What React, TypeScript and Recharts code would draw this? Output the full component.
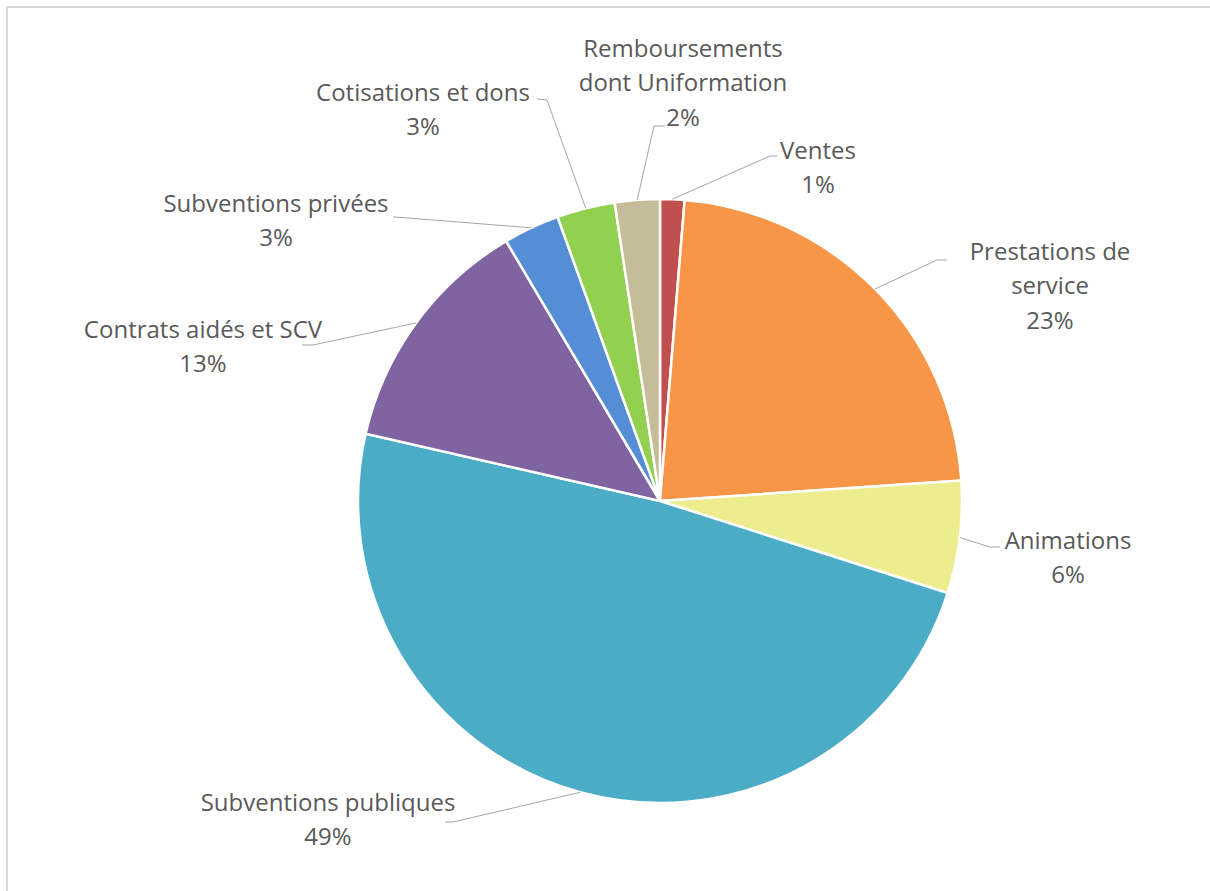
import React from "react";
import { PieChart, Pie, Cell } from "recharts";

const categories = [
  "Ventes",
  "Prestations de\nservice",
  "Animations",
  "Subventions publiques",
  "Contrats aidés et SCV",
  "Subventions privées",
  "Cotisations et dons",
  "Remboursements\ndont Uniformation",
];
const values = [1.3, 22.6, 6.0, 48.6, 12.9, 3.0, 3.1, 2.4];
const colors = ["#c0504d", "#f79646", "#eded8f", "#4bacc6", "#8064a2", "#558ed5", "#92d050", "#c4bd97"];

// label layout offsets relative to pie centre: elbow, end of leader, text centre of first line
const labelLayout = [
  { elbow: [110, -345], end: [117, -345], text: [158, -351] },
  { elbow: [277, -241], end: [287, -241], text: [390, -250] },
  { elbow: [330, 46], end: [340, 46], text: [408, 39] },
  { elbow: [-207, 321], end: [-215, 321], text: [-332, 301] },
  { elbow: [-347, -156], end: [-358, -156], text: [-457, -172] },
  { elbow: [-265, -284], end: [-267, -284], text: [-384, -298] },
  { elbow: [-113, -401], end: [-123, -402], text: [-237, -409] },
  { elbow: [-6, -375], end: [5, -375], text: [23, -453] },
];

const data = categories.map((name, i) => ({ name, value: values[i] }));

const FONT = "'Open Sans', sans-serif";
const FONT_SIZE = 24;
const LINE_H = 34.5;

const renderLabel = (props: any) => {
  const { cx, cy, midAngle, outerRadius, percent, index } = props;
  const RAD = Math.PI / 180;
  const sx = cx + outerRadius * Math.cos(-midAngle * RAD);
  const sy = cy + outerRadius * Math.sin(-midAngle * RAD);
  const L = labelLayout[index];
  const lines = [...categories[index].split("\n"), `${Math.round(percent * 100)}%`];
  const baseY = cy + L.text[1] + 8.5;
  return (
    <g key={`lbl-${index}`}>
      <polyline
        points={`${sx},${sy} ${cx + L.elbow[0]},${cy + L.elbow[1]} ${cx + L.end[0]},${cy + L.end[1]}`}
        fill="none"
        stroke="#a6a6a6"
        strokeWidth={1}
      />
      <text x={cx + L.text[0]} y={baseY} textAnchor="middle" fill="#595959" fontFamily={FONT} fontSize={FONT_SIZE}>
        {lines.map((t, i) => (
          <tspan key={i} x={cx + L.text[0]} y={baseY + i * LINE_H}>
            {t}
          </tspan>
        ))}
      </text>
    </g>
  );
};

export default function App() {
  return (
    <div style={{ position: "absolute", left: 0, top: 0, width: 1210, height: 891, overflow: "hidden", background: "#fff" }}>
      <div
        style={{
          position: "absolute",
          left: 6,
          top: 6,
          width: 1300,
          height: 1000,
          borderTop: "2px solid #d9d9d9",
          borderLeft: "2px solid #d9d9d9",
        }}
      />
      <div style={{ position: "absolute", left: 0, top: 0 }}>
        <PieChart width={1210} height={891} margin={{ top: 0, right: 0, bottom: 0, left: 0 }}>
          <Pie
            data={data}
            dataKey="value"
            nameKey="name"
            cx={660}
            cy={501}
            outerRadius={302}
            startAngle={90}
            endAngle={-270}
            stroke="#ffffff"
            strokeWidth={2.5}
            label={renderLabel}
            labelLine={false}
            isAnimationActive={false}
          >
            {data.map((d, i) => (
              <Cell key={d.name} fill={colors[i]} />
            ))}
          </Pie>
        </PieChart>
      </div>
    </div>
  );
}
